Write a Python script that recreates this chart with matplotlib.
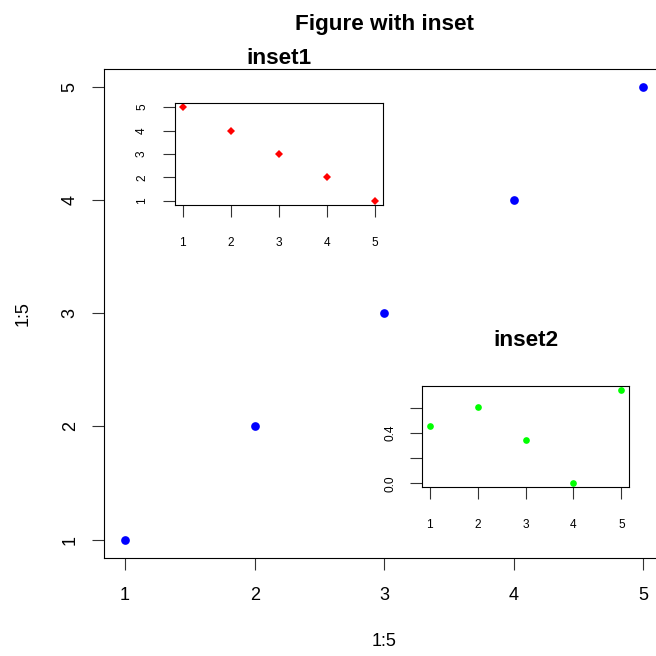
import matplotlib
matplotlib.use("Agg")
import matplotlib.pyplot as plt

plt.rcParams["font.family"] = ["Liberation Sans", "DejaVu Sans"]

# main panel: 1:5 against 1:5
main_x = [1, 2, 3, 4, 5]
main_y = [1, 2, 3, 4, 5]
main_ticks = [1, 2, 3, 4, 5]

# inset1: reversed sequence
in1_x = [1, 2, 3, 4, 5]
in1_y = [5, 4, 3, 2, 1]
in1_ticks = [1, 2, 3, 4, 5]

# inset2: small values in [0, 1)
in2_x = [1, 2, 3, 4, 5]
in2_y = [0.457, 0.606, 0.345, 0.0, 0.743]
in2_xticks = [1, 2, 3, 4, 5]
in2_yticks = [0.0, 0.2, 0.4, 0.6]
in2_ylabels = ["0.0", "", "0.4", ""]

PX = 0.72  # points per pixel at dpi 100


def r_axes(ax, fs, xpad, ypad):
    """base-graphics look: outward ticks, rotated y labels centred on ticks"""
    for s in ax.spines.values():
        s.set_linewidth(0.8)
    ax.tick_params(axis="both", direction="out", length=12 * PX, width=0.8,
                   labelsize=fs, color="#333333")
    ax.tick_params(axis="x", pad=xpad * PX)
    ax.tick_params(axis="y", pad=ypad * PX, labelrotation=90)
    for lbl in ax.get_xticklabels():
        lbl.set_va("center")
    for lbl in ax.get_yticklabels():
        lbl.set_ha("center")
        lbl.set_va("center")
    ax.margins(0.04)


fig = plt.figure(figsize=(6.56, 6.56), dpi=100)

ax = fig.add_axes([104.3 / 656, 1 - 557.7 / 656, 559.9 / 656, 489.1 / 656])
ax.plot(main_x, main_y, "o", color="#0000ff", ms=8.7 * PX, mew=0)
ax.set_xticks(main_ticks)
ax.set_yticks(main_ticks)
r_axes(ax, 13, 26, 22)
ax.set_title("Figure with inset", fontsize=16.2, fontweight="bold", pad=38.6 * PX)
ax.set_xlabel("1:5", fontsize=13, va="center")
ax.xaxis.set_label_coords(0.5, -84 / 489.1)
ax.set_ylabel("1:5", fontsize=13, va="center", ha="center")
ax.yaxis.set_label_coords((23 - 104.3) / 559.9, 0.5)

ax1 = fig.add_axes([175 / 656, 1 - 204.7 / 656, 207.7 / 656, 101.4 / 656])
ax1.plot(in1_x, in1_y, "D", color="#ff0000", ms=5.2 * PX, mew=0)
ax1.set_xticks(in1_ticks)
ax1.set_yticks(in1_ticks)
r_axes(ax1, 8.6, 26.6, 21)
ax1.set_title("inset1", fontsize=16.2, fontweight="bold", pad=39.6 * PX)

ax2 = fig.add_axes([422 / 656, 1 - 487 / 656, 207 / 656, 100.7 / 656])
ax2.plot(in2_x, in2_y, "o", color="#00ff00", ms=6.7 * PX, mew=0)
ax2.set_xticks(in2_xticks)
ax2.set_yticks(in2_yticks, in2_ylabels)
r_axes(ax2, 8.6, 26, 20)
ax2.set_title("inset2", fontsize=16.2, fontweight="bold", pad=40 * PX)

fig.savefig("out.png", dpi=100)
